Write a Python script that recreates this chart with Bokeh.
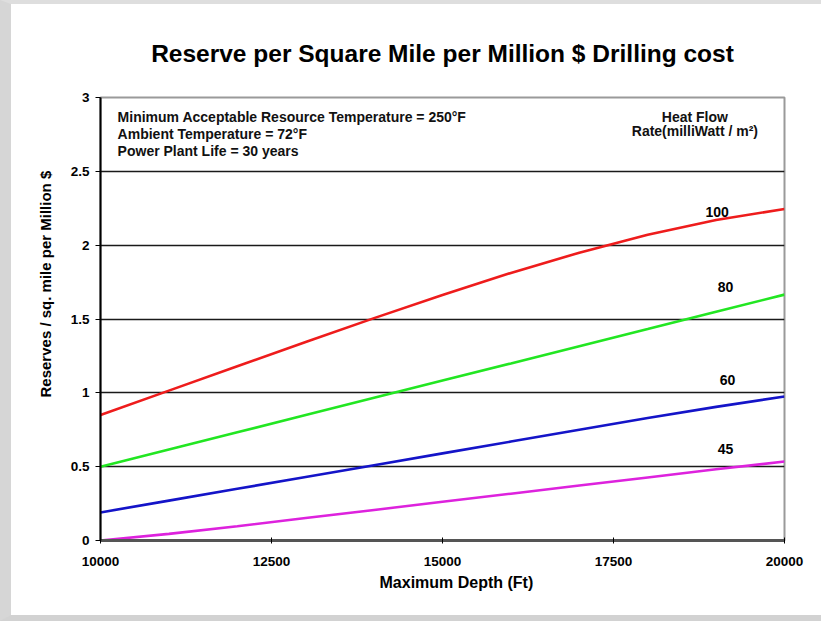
from bokeh.plotting import figure
from bokeh.models import FixedTicker, Range1d, Title
from bokeh.core.properties import value
from bokeh.embed import file_html
from bokeh.resources import INLINE

# ---- data ----
depth = [10000, 11000, 12000, 13000, 14000, 15000, 16000, 17000, 18000, 19000, 20000]
hf_100 = [0.85, 1.015, 1.18, 1.344, 1.506, 1.663, 1.812, 1.949, 2.07, 2.17, 2.245]
hf_80 = [0.50, 0.617, 0.733, 0.85, 0.966, 1.083, 1.199, 1.316, 1.432, 1.549, 1.665]
hf_60 = [0.19, 0.27, 0.35, 0.43, 0.51, 0.59, 0.67, 0.75, 0.83, 0.905, 0.975]
hf_45 = [0.0, 0.045, 0.097, 0.152, 0.207, 0.262, 0.317, 0.372, 0.427, 0.482, 0.535]

series_names = ["100", "80", "60", "45"]
series_colors = ["#ee1c1c", "#22e622", "#1414c8", "#dd22dd"]
series_values = [hf_100, hf_80, hf_60, hf_45]

# curve label anchors (data coordinates)
label_x = [19016, 19137, 19167, 19137]
label_y = [2.223, 1.720, 1.090, 0.623]

x_ticks = [10000, 12500, 15000, 17500, 20000]
y_ticks = [0, 0.5, 1, 1.5, 2, 2.5, 3]
y_tick_labels = ["0", "0.5", "1", "1.5", "2", "2.5", "3"]

info_lines = ["Minimum Acceptable Resource Temperature = 250\u00b0F",
              "Ambient Temperature = 72\u00b0F",
              "Power Plant Life = 30 years"]
info_x = [10250, 10250, 10250]
info_y = [2.871, 2.756, 2.641]

legend_lines = ["Heat Flow", "Rate(milliWatt / m\u00b2)"]
legend_x = [18690, 18690]
legend_y = [2.866, 2.775]

title_text = "Reserve per Square Mile per Million $ Drilling cost"
x_title = "Maximum Depth (Ft)"
y_title = "Reserves / sq. mile per Million $"

FONT = "Liberation Sans"

p = figure(frame_width=684, frame_height=443,
           min_border_left=89, min_border_top=93, min_border_right=37, min_border_bottom=75,
           x_range=Range1d(10000, 20000), y_range=Range1d(0, 3),
           output_backend="svg", toolbar_location=None,
           title=title_text)

p.styles = {"border-left": "11px solid #d6d6d6",
            "border-top": "4px solid #dedede",
            "border-bottom": "6px solid #d2d2d2"}

p.background_fill_color = "white"
p.border_fill_color = "white"
p.outline_line_color = "#9a9a9a"
p.outline_line_width = 2

p.title.align = "center"
p.title.text_font = FONT
p.title.text_font_style = "bold"
p.title.text_font_size = "24.5px"
p.title.text_color = "black"
p.title.standoff = 62

# grid
p.xgrid.visible = False
p.ygrid.ticker = FixedTicker(ticks=[0.5, 1, 1.5, 2, 2.5])
p.ygrid.grid_line_color = "#1a1a1a"
p.ygrid.grid_line_width = 1.6

# axes
xa = p.xaxis[0]
xa.ticker = FixedTicker(ticks=x_ticks)
xa.axis_line_color = "#555555"
xa.axis_line_width = 3
xa.major_tick_line_color = "black"
xa.major_tick_in = 3
xa.major_tick_out = 3
xa.minor_tick_line_color = None
xa.major_label_standoff = 13

ya = p.yaxis[0]
ya.ticker = FixedTicker(ticks=y_ticks)
ya.major_label_overrides = {t: l for t, l in zip(y_ticks, y_tick_labels)}
ya.axis_line_color = "black"
ya.axis_line_width = 2
ya.major_tick_line_color = "black"
ya.major_tick_in = 0
ya.major_tick_out = 5
ya.minor_tick_line_color = None
ya.major_label_standoff = 6

for ax in (xa, ya):
    ax.major_label_text_font = FONT
    ax.major_label_text_font_style = "bold"
    ax.major_label_text_font_size = "13.5px"
    ax.major_label_text_color = "black"

# axis titles (slightly off-centre, as in the reference)
xt = Title(text=x_title, align="left", offset=279, standoff=6,
           text_font=FONT, text_font_style="bold", text_font_size="16px", text_color="black")
p.add_layout(xt, "below")
yt = Title(text=y_title, align="left", offset=143, standoff=28,
           text_font=FONT, text_font_style="bold", text_font_size="15px", text_color="black")
p.add_layout(yt, "left")

# curves
for vals, col in zip(series_values, series_colors):
    p.line(depth, vals, line_color=col, line_width=2.6)

# curve labels
p.text(x=label_x, y=label_y, text=series_names, text_align="center", text_baseline="middle",
       text_font=value(FONT), text_font_style="bold", text_font_size="14px", text_color="black")

# info text
p.text(x=info_x, y=info_y, text=info_lines, text_align="left", text_baseline="middle",
       text_font=value(FONT), text_font_style="bold", text_font_size="14px", text_color="#111111")

p.text(x=legend_x, y=legend_y, text=legend_lines, text_align="center", text_baseline="middle",
       text_font=value(FONT), text_font_style="bold", text_font_size="14px", text_color="#111111")

open("out.html", "w").write(file_html(p, INLINE))
